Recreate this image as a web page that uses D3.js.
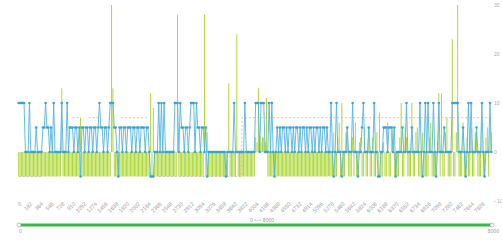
<!DOCTYPE html>
<html>
<head>
<meta charset="utf-8">
<script src="https://cdn.jsdelivr.net/npm/d3@7/dist/d3.min.js"></script>
<style>
    body { margin: 0; background: #fff; }
    svg { display: block; font-family: "Noto Sans", sans-serif; }
</style>
</head>
<body>
<div class="visHolder"></div>
<script>
const width = 502;
const height = 240;
const _ = null;

// blue line series
const blueValues = [
    10, 10, 10, 10, 10, 0, 0, 0, 10, 0, 0, 0, 0, 5, 0, 0, 0, 0, 5, 5,
    10, 5, 5, 0, 5, 0, 10, 0, 0, 0, 0, 0, 10, 0, 0, 0, 10, 0, 5, 5,
    5, 0, 5, 5, 0, 5, -5, 5, 5, 0, 5, 5, 0, 5, 5, 0, 5, 5, 0, 5,
    10, 5, 5, 0, 5, 5, 0, 5, 10, 10, 10, 5, 5, 0, -5, 5, 5, 0, 5, 5,
    0, 5, 5, 5, 0, 5, 5, 0, 5, 5, 0, 5, 5, 5, 0, 5, 5, 0, -5, -5,
    -5, 0, 0, 0, 10, 0, 10, 0, 10, 0, 0, 0, 0, 0, 0, 0, 10, 10, 10, 0,
    10, 5, 5, 0, 5, 5, 0, 5, 10, 10, 10, 0, 10, 5, 5, 0, 5, 5, 0, 5,
    -5, 0, 0, 0, 0, 0, 0, 0, 0, 0, 0, 0, 0, 0, -5, 0, 0, 0, 0, 0,
    10, 0, 0, 0, 0, 0, 0, 0, 10, 0, 0, 0, 0, 0, 0, 0, 10, 10, 10, 0,
    10, 10, 10, 0, 0, 0, 10, 0, 10, 0, -5, 0, 5, 0, 5, 0, 5, 5, 0, 5,
    0, 5, 5, 0, 5, 0, 5, 5, 0, 5, 0, 5, 5, 0, 5, 0, 5, 5, 0, 5,
    0, 5, 5, 0, 5, 0, 5, 5, 0, 5, 0, 0, 10, 0, -5, 0, 10, 0, 0, 0,
    -5, 0, 0, 0, 5, 0, 0, 0, 10, 0, 0, 0, -5, 0, 0, 5, 10, 0, 0, 0,
    5, 0, 0, 0, 10, 0, 0, -5, -5, 0, 0, 5, 5, 5, 0, 5, 5, 5, 0, 5,
    -5, 0, 0, 0, 0, 5, 0, 0, 10, 0, 0, 0, 5, 0, 0, 0, 0, 0, 10, 0,
    -5, 0, 10, 0, 10, 0, 0, 0, 10, 0, -5, 0, 10, 0, 0, 0, 5, 0, 0, 0,
    0, 0, 10, 10, 10, 10, 10, 0, 0, 0, 5, 0, -5, 0, 10, 0, 10, 0, 0, 0,
    5, 0, 0, 0, 10, 0, -5, 0, 0, 0, 10, 0
];

// green bar series
const greenValues = [
    -5, -5, -5, -5, -5, -5, -5, -5, -5, -5, -5, -5, -5, -5, -5, -5, -5, -5, -5, -5,
    -5, -5, -5, -5, -5, -5, -5, -5, -5, -5, -5, -5, 13, -5, -5, -5, -5, -5, -5, -5,
    -5, -5, -5, -5, -5, -5, 7, -5, -5, -5, -5, -5, -5, -5, -5, -5, -5, -5, -5, -5,
    -5, -5, -5, -5, -5, -5, -5, -5, -5, 30, 13, -5, -5, -5, -5, -5, -5, -5, -5, -5,
    -5, -5, -5, -5, -5, -5, -5, -5, -5, -5, -5, -5, -5, -5, -5, -5, -5, -5, 12, -5,
    9, -5, -5, -5, -5, -5, -5, -5, -5, -5, -5, -5, -5, -5, -5, -5, -5, -5, 28, -5,
    -5, -5, -5, -5, -5, -5, -5, -5, -5, -5, -5, -5, -5, -5, -5, -5, -5, -5, 28, -5,
    4, -5, -5, -5, -5, -5, -5, -5, -5, -5, -5, -5, -5, -5, -5, -5, 14, -5, -5, -5,
    -5, -5, 24, -5, -5, -5, -5, -5, -5, -5, -5, -5, -5, -5, -5, -5, 3, 2, 13, 3,
    2, 3, 3, 2, 11, -5, -5, -5, -5, -5, -5, -5, -5, -5, -5, -5, -5, -5, -5, -5,
    -5, -5, -5, -5, -5, -5, -5, -5, -5, -5, -5, -5, -5, -5, -5, -5, -5, -5, -5, -5,
    -5, -5, -5, -5, -5, -5, -5, -5, -5, -5, -5, -5, -5, -5, 4, -5, -5, 3, 6, -5,
    10, -5, -5, 4, 5, -5, -5, -5, 3, -5, 6, -5, -5, 2, 3, -5, -5, 5, -5, -5,
    5, -5, -5, 3, -5, -5, 4, -5, 8, -5, -5, 2, -5, -5, 6, -5, -5, 4, 5, -5,
    -5, -5, -5, 3, 10, -5, -5, 5, 3, -5, -5, -5, 10, -5, -5, 4, 5, -5, -5, -5,
    4, -5, -5, -5, -5, 3, 6, -5, -5, -5, -5, 2, 12, -5, 12, -5, -5, 4, 7, -5,
    -5, -5, 23, -5, -5, 4, 30, -5, -5, -5, 6, -5, -5, 3, -5, -5, 5, -5, -5, 4,
    4, -5, -5, -5, 6, -5, -5, 3, 5, -5, 5, 4
];

// dashed pink series (null = gap)
const pinkValues = [
    -5, -5, -5, -5, -5, -5, -5, -5, -5, -5, -5, -5, -5, -5, -5, -5, -5, -5, _, _,
    _, _, _, _, _, _, _, _, _, _, _, _, _, _, _, _, _, _, _, _,
    7, 7, 7, 7, 7, 7, _, _, _, _, _, _, 7, 7, 7, 7, 7, 7, 7, 7,
    _, _, _, _, _, _, _, _, _, _, _, _, _, _, _, _, 7, 7, 7, 7,
    7, 7, 7, 7, 7, 7, 7, 7, 7, 7, 7, 7, 7, 7, 7, 7, _, _, _, _,
    _, _, _, _, -5, -5, -5, -5, -5, -5, -5, -5, -5, -5, -5, -5, -5, -5, -5, -5,
    -5, -5, -5, -5, -5, -5, -5, -5, -5, -5, -5, -5, -5, -5, -5, -5, -5, -5, -5, -5,
    -5, -5, -5, -5, -5, -5, -5, -5, -5, -5, -5, -5, -5, -5, -5, -5, -5, -5, -5, -5,
    -5, -5, -5, -5, -5, -5, 7, 7, 7, 7, 7, 7, 7, 7, 7, 7, 7, 7, 7, 7,
    7, 7, 7, 7, 7, 7, 7, 7, 7, 7, 7, 7, 7, 7, 7, 7, 7, 7, 7, 7,
    7, 7, 7, 7, 7, 7, 7, 7, 7, 7, 7, 7, 7, 7, 7, 7, 7, 7, 7, 7,
    7, 7, 7, 7, 7, 7, 7, 7, 7, 7, 7, 7, 7, 7, 7, 7, 7, 7, 7, 7,
    7, 7, 7, 7, 7, 7, 7, 7, 7, 7, 7, 7, 7, 7, 7, 7, 7, 7, 7, 7,
    7, 7, 7, 7, 7, 7, 7, 7, 7, 7, 7, 7, 7, 7, 7, 7, 7, 7, 7, 7,
    7, 7, 7, 7, 7, 7, 7, 7, 7, 7, 7, 7, 7, 7, 7, 7, 7, 7, 7, 7,
    7, 7, 7, 7, 7, 7, 7, 7, 7, 7, 7, 7, 7, 7, 7, 7, 7, 7, 7, 7,
    7, 7, 7, 7, 7, 7, 7, 7, 7, 7, 7, 7, 7, 7, 7, 7, 7, 7, 7, 7,
    7, 7, 7, 7, 7, 7, 7, 7, 7, 7, 7, 7
];

const xLabels = [
    "0", "182", "364", "546", "728", "910", "1092", "1274", "1456", "1638",
    "1820", "2002", "2184", "2366", "2548", "2730", "2912", "3094", "3276", "3458",
    "3640", "3822", "4004", "4186", "4368", "4550", "4732", "4914", "5096", "5278",
    "5460", "5642", "5824", "6006", "6188", "6370", "6552", "6734", "6916", "7098",
    "7280", "7462", "7644", "7826"
];
const yTicks = [-10, 0, 10, 20, 30];
const zoomRange = [0, 8000];

const categories = blueValues.map((d, i) => i);
const labelEvery = 8;

let svgContainer = d3
    .select(".visHolder")
    .append("svg")
    .attr("width", width)
    .attr("height", height);

const xScale = d3
    .scaleBand()
    .domain(categories)
    .range([18, 492]);

const yScale = d3
    .scaleLinear()
    .domain([-10, 30])
    .range([201, 5]);

// x axis, rotated labels
const tickCats = categories.filter((d) => d % labelEvery === 0);
const xAxis = d3
    .axisBottom(xScale)
    .tickValues(tickCats)
    .tickSize(0)
    .tickPadding(3)
    .tickFormat((d) => xLabels[d / labelEvery]);
const gx = svgContainer
    .append("g")
    .attr("transform", "translate(0, 201)")
    .call(xAxis);
gx.select(".domain").remove();
gx.selectAll("text")
    .attr("font-size", 5.5)
    .attr("fill", "#999")
    .attr("text-anchor", "end")
    .attr("dy", "0.3em")
    .attr("transform", "rotate(-45)");

// right y axis
const yAxis = d3
    .axisRight(yScale)
    .tickValues(yTicks)
    .tickSize(0)
    .tickPadding(3);
const gy = svgContainer
    .append("g")
    .attr("transform", "translate(491, 0)")
    .call(yAxis);
gy.select(".domain").remove();
gy.selectAll("text").attr("font-size", 5).attr("fill", "#aaa");

// green bars
const barW = xScale.bandwidth() * 0.7;
svgContainer
    .append("g")
    .selectAll("rect")
    .data(greenValues)
    .enter()
    .append("rect")
    .attr("x", (d, i) => xScale(i) + (xScale.bandwidth() - barW) / 2)
    .attr("y", (d) => yScale(Math.max(0, d)))
    .attr("width", barW)
    .attr("height", (d) => Math.abs(yScale(d) - yScale(0)))
    .attr("fill", "#a9d62c");

const cx = (i) => xScale(i) + xScale.bandwidth() / 2;

// pink dashed series
const pinkLine = d3
    .line()
    .defined((d) => d !== null)
    .x((d, i) => cx(i))
    .y((d) => yScale(d));
svgContainer
    .append("path")
    .datum(pinkValues)
    .attr("d", pinkLine)
    .attr("fill", "none")
    .attr("stroke", "#e3a3b3")
    .attr("stroke-width", 0.8)
    .attr("stroke-dasharray", "2,2");

// blue line + markers
const blueLine = d3
    .line()
    .x((d, i) => cx(i))
    .y((d) => yScale(d));
svgContainer
    .append("path")
    .datum(blueValues)
    .attr("d", blueLine)
    .attr("fill", "none")
    .attr("stroke", "#52b4e4")
    .attr("stroke-width", 0.9);
svgContainer
    .append("g")
    .selectAll("circle")
    .data(blueValues)
    .enter()
    .append("circle")
    .attr("cx", (d, i) => cx(i))
    .attr("cy", (d) => yScale(d))
    .attr("r", 1.3)
    .attr("fill", "#3aa3d9");

// data zoom slider
const zScale = d3.scaleLinear().domain(zoomRange).range([19, 492]);
svgContainer
    .append("line")
    .attr("x1", zScale(zoomRange[0]))
    .attr("x2", zScale(zoomRange[1]))
    .attr("y1", 225)
    .attr("y2", 225)
    .attr("stroke", "#3bb54d")
    .attr("stroke-width", 3);
svgContainer
    .selectAll(".handle")
    .data(zoomRange)
    .enter()
    .append("circle")
    .attr("class", "handle")
    .attr("cx", (d) => zScale(d))
    .attr("cy", 225)
    .attr("r", 2)
    .attr("fill", "#fff")
    .attr("stroke", "#999")
    .attr("stroke-width", 0.6);
svgContainer
    .append("text")
    .attr("x", zScale(zoomRange[0]))
    .attr("y", 233)
    .attr("font-size", 5)
    .attr("fill", "#999")
    .text(zoomRange[0]);
svgContainer
    .append("text")
    .attr("x", 499)
    .attr("y", 233)
    .attr("text-anchor", "end")
    .attr("font-size", 5)
    .attr("fill", "#999")
    .text(zoomRange[1]);
svgContainer
    .append("text")
    .attr("x", 250)
    .attr("y", 222)
    .attr("font-size", 5)
    .attr("fill", "#999")
    .text(zoomRange[0] + " <-> " + zoomRange[1]);
</script>
</body>
</html>
